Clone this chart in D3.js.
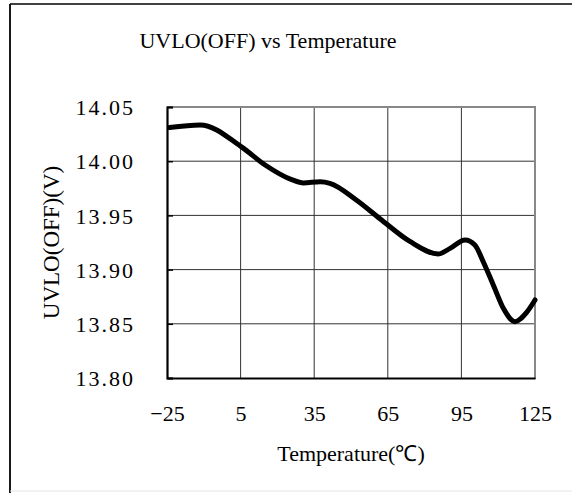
<!DOCTYPE html>
<html><head><meta charset="utf-8">
<script src="https://cdn.jsdelivr.net/npm/d3@7"></script>
<style>html,body{margin:0;padding:0;background:#fff;}svg{display:block;}</style>
</head><body>
<script>
const title = "UVLO(OFF) vs Temperature";
const xTitle = "Temperature(℃)";
const yTitle = "UVLO(OFF)(V)";
const xTicks = [-25, 5, 35, 65, 95, 125];
const yTicks = [13.80, 13.85, 13.90, 13.95, 14.00, 14.05];
const temps = [-24, -11.5, 5.5, 15, 25.8, 30.6, 37.4, 41.4, 52.3, 61.8, 74, 85.6, 90.4, 96.5, 100.5, 103.9, 108, 112.1, 116.8, 121.6, 125];
const uvlo  = [14.031, 14.0335, 14.013, 13.9965, 13.983, 13.980, 13.981, 13.9796, 13.964, 13.947, 13.926, 13.9144, 13.9196, 13.9273, 13.9227, 13.9073, 13.8858, 13.8643, 13.852, 13.8606, 13.872];

const W = 572, H = 493;
const svg = d3.select("body").append("svg").attr("width", W).attr("height", H);
const m = {l:167, r:535, t:107, b:378};
const x = d3.scaleLinear().domain([-25,125]).range([m.l, m.r]);
const y = d3.scaleLinear().domain([13.80,14.05]).range([m.b, m.t]);
const serif = "'Liberation Serif', 'Times New Roman', serif";

// outer frame
svg.append("line").attr("x1",10).attr("x2",W).attr("y1",4).attr("y2",4).attr("stroke","#000").attr("stroke-width",1.5);
svg.append("line").attr("x1",10).attr("x2",10).attr("y1",4).attr("y2",H).attr("stroke","#000").attr("stroke-width",1.8);
svg.append("line").attr("x1",10).attr("x2",W).attr("y1",491).attr("y2",491).attr("stroke","#e4e4e4").attr("stroke-width",1);

// grid
const g = svg.append("g");
g.selectAll(".vg").data(xTicks.slice(1,-1)).join("line")
  .attr("x1",d=>x(d)).attr("x2",d=>x(d)).attr("y1",m.t).attr("y2",m.b)
  .attr("stroke","#333").attr("stroke-width",1);
g.selectAll(".hg").data(yTicks.slice(1,-1)).join("line")
  .attr("x1",m.l).attr("x2",m.r).attr("y1",d=>y(d)).attr("y2",d=>y(d))
  .attr("stroke","#333").attr("stroke-width",1);
// top and right borders gray
svg.append("line").attr("x1",m.l).attr("x2",m.r+1).attr("y1",m.t).attr("y2",m.t).attr("stroke","#888").attr("stroke-width",2);
svg.append("line").attr("x1",m.r).attr("x2",m.r).attr("y1",m.t).attr("y2",m.b+1).attr("stroke","#888").attr("stroke-width",2);

// axes
const fmtY = d3.format(".2f");
const yAxis = d3.axisLeft(y).tickValues(yTicks).tickSize(-6).tickPadding(32).tickFormat(fmtY);
const ya = svg.append("g").attr("transform",`translate(${m.l},0)`).call(yAxis);
ya.select(".domain").attr("stroke","#000").attr("stroke-width",2.2);
ya.selectAll(".tick line").attr("stroke","#000").attr("stroke-width",1.5);
ya.selectAll("text").attr("font-family",serif).attr("font-size",22).attr("fill","#000")
  .attr("letter-spacing","2px").attr("dy","0.35em");

const xAxis = d3.axisBottom(x).tickValues(xTicks).tickSize(0).tickPadding(27).tickFormat(d=> d<0 ? "\u2212"+Math.abs(d) : String(d));
const xa = svg.append("g").attr("transform",`translate(0,${m.b})`).call(xAxis);
xa.select(".domain").attr("stroke","#000").attr("stroke-width",2.2);
xa.selectAll("text").attr("font-family",serif).attr("font-size",22).attr("fill","#000");

// curve
const pts = temps.map((t,i)=>[t, uvlo[i]]);
svg.append("path").datum(pts)
  .attr("d", d3.line().x(d=>x(d[0])).y(d=>y(d[1])).curve(d3.curveMonotoneX))
  .attr("fill","none").attr("stroke","#000").attr("stroke-width",5).attr("stroke-linecap","round").attr("stroke-linejoin","round");

// titles
svg.append("text").attr("x",268).attr("y",48).attr("text-anchor","middle")
  .attr("font-family",serif).attr("font-size",22).text(title);
svg.append("text").attr("x",(m.l+m.r)/2).attr("y",461).attr("text-anchor","middle")
  .attr("font-family",serif).attr("font-size",22).text(xTitle);
svg.append("text").attr("transform",`translate(59,${(m.t+m.b)/2}) rotate(-90)`).attr("text-anchor","middle")
  .attr("font-family",serif).attr("font-size",23).text(yTitle);
</script>
</body></html>
